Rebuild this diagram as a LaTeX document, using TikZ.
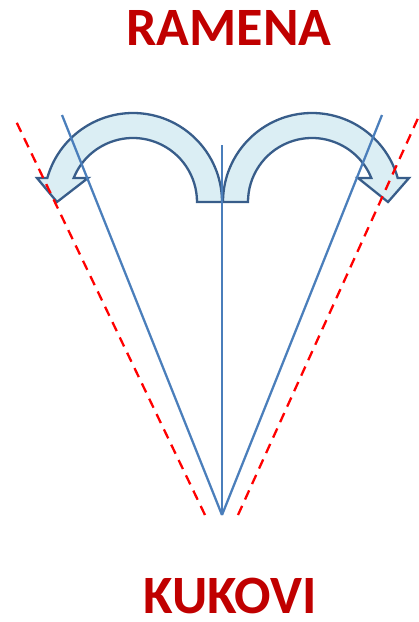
\documentclass[tikz,border=0pt]{standalone}
\usepackage{fontspec}
\setmainfont{Carlito}
\usepackage{xcolor}
\usepackage{tikz}
\usetikzlibrary{positioning}

\definecolor{titlered}{HTML}{C00000}
\definecolor{axisblue}{HTML}{4A7EBB}
\definecolor{arrowline}{HTML}{385D8A}
\definecolor{arrowfill}{HTML}{DBEEF4}

\begin{document}
\begin{tikzpicture}[x=1pt, y=1pt,
        title/.style={text=titlered, inner sep=0pt, font=\fontsize{54}{60}\selectfont\bfseries},
        axis/.style={draw=axisblue, line width=2.3pt},
        limit/.style={draw=red, line width=2.3pt, dash pattern=on 10pt off 7pt},
        turnarrow/.style={draw=arrowline, fill=arrowfill, line width=2.3pt, line join=miter}]
        \useasboundingbox (0,0) rectangle (419,-622);

        \node[title] (ramena) at (229,-28) {RAMENA};
        \node[title] (kukovi) at (230,-596) {KUKOVI};

        \coordinate (apex)   at (222,-515);
        \coordinate (mid)    at (222,-145);
        \coordinate (lt)     at (62,-115);
        \coordinate (rt)     at (382,-115);
        \coordinate (redl)   at (205,-515);
        \coordinate (redlt)  at (14,-117);
        \coordinate (redr)   at (238,-515);
        \coordinate (redrt)  at (424,-105);

        % curved arrows
        \draw[turnarrow] (222,-202) arc[start angle=0, end angle={180-asin(24/89)}, radius=89]
            -- (37,-178) -- (57,-202) -- (88,-178)
            -- ({133-64*cos(asin(24/64))},-178) arc[start angle={180-asin(24/64)}, end angle=0, radius=64]
            -- cycle;
        \draw[turnarrow] (223,-202) arc[start angle=180, end angle={asin(24/89)}, radius=89]
            -- (409,-178) -- (388,-202) -- (358,-178)
            -- ({312+64*cos(asin(24/64))},-178) arc[start angle={asin(24/64)}, end angle=180, radius=64]
            -- cycle;

        \path[axis]
        (apex) edge (mid)
        (apex) edge (lt)
        (apex) edge (rt);

        \path[limit]
        (redl) edge (redlt)
        (redr) edge (redrt);

    \end{tikzpicture}
\end{document}
